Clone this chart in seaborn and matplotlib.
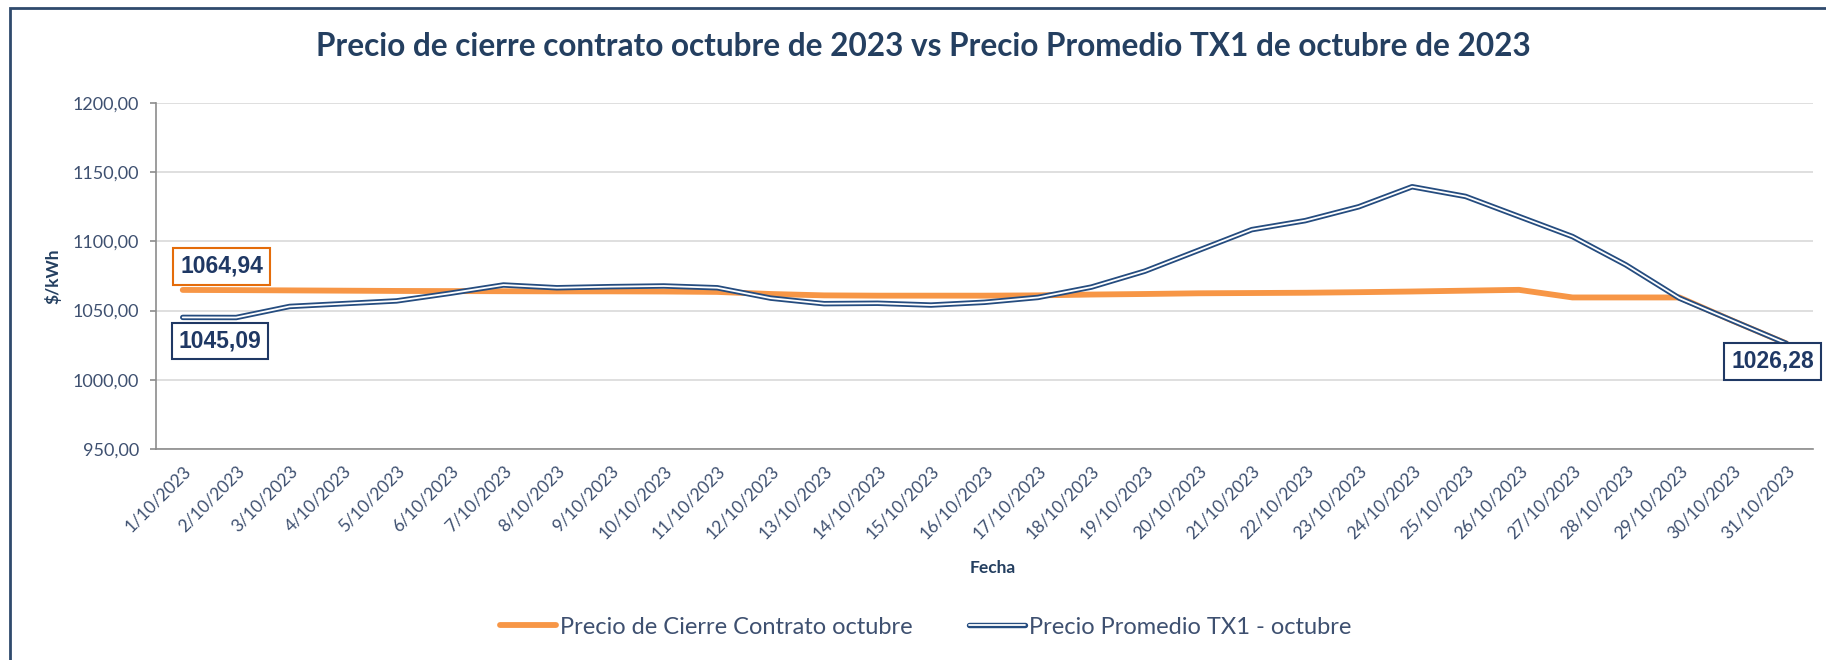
import numpy as np
import pandas as pd
import matplotlib
matplotlib.use("Agg")
import matplotlib.pyplot as plt
import matplotlib.patheffects as pe
from matplotlib.patches import Rectangle
from matplotlib.ticker import FuncFormatter
import seaborn as sns

# --- data ---
fechas = [f"{d}/10/2023" for d in range(1, 32)]

cierre_contrato = [
    1064.94, 1064.8, 1064.6, 1064.4, 1064.2, 1064.1, 1064.0, 1063.9, 1063.9, 1063.8,
    1063.5, 1062.0, 1061.0, 1060.8, 1060.8, 1060.8, 1061.0, 1061.6, 1062.0, 1062.5,
    1062.7, 1062.9, 1063.3, 1063.8, 1064.4, 1065.0, 1059.5, 1059.5, 1059.5, 1042.6,
    1026.28,
]
promedio_tx1 = [
    1045.09, 1045.0, 1053.0, 1055.0, 1057.0, 1062.5, 1068.5, 1066.5, 1067.3, 1067.8,
    1066.5, 1059.0, 1055.0, 1055.3, 1054.0, 1056.0, 1059.5, 1067.0, 1078.5, 1093.5,
    1108.5, 1115.0, 1125.0, 1139.5, 1132.5, 1118.0, 1103.5, 1083.0, 1059.0, 1042.6,
    1026.28,
]
y_ticks = [950, 1000, 1050, 1100, 1150, 1200]

serie_cierre = "Precio de Cierre Contrato octubre"
serie_tx1 = "Precio Promedio TX1 - octubre"

NAVY = "#254C7F"
ORANGE = "#F79646"
TEXT = "#243F60"
TICK = "#3E5070"

df = pd.DataFrame({
    "dia": np.arange(len(fechas)),
    "cierre": cierre_contrato,
    "tx1": promedio_tx1,
})

sns.set_theme(style="white")
plt.rcParams["font.family"] = ["Lato", "DejaVu Sans"]

W, H = 1826, 660
fig = plt.figure(figsize=(W / 100, H / 100), dpi=100)
ax = fig.add_axes([156 / W, 1 - 449 / H, (1813 - 156) / W, (449 - 103) / H])

sns.lineplot(data=df, x="dia", y="cierre", ax=ax, color=ORANGE, lw=4.2,
             solid_capstyle="round", label=serie_cierre, zorder=3)
sns.lineplot(data=df, x="dia", y="tx1", ax=ax, color="white", lw=1.3,
             solid_capstyle="round", label=serie_tx1, zorder=4,
             path_effects=[pe.Stroke(linewidth=3.9, foreground=NAVY,
                                     capstyle="round"), pe.Normal()])

ax.set_xlim(-0.5, len(fechas) - 0.5)
ax.set_ylim(950, 1200)
ax.set_yticks(y_ticks)
ax.yaxis.set_major_formatter(FuncFormatter(lambda v, _: f"{v:.2f}".replace(".", ",")))
ax.set_xticks(df["dia"])
ax.set_xticklabels(fechas, rotation=45, ha="right", rotation_mode="anchor")

ax.grid(axis="y", color="#D9D9D9", lw=1.2)
ax.set_axisbelow(True)
for s in ["top", "right"]:
    ax.spines[s].set_visible(False)
for s in ["left", "bottom"]:
    ax.spines[s].set_color("#8C8C8C")
    ax.spines[s].set_linewidth(1.2)
ax.tick_params(axis="y", length=4, width=1.2, color="#8C8C8C", labelsize=13,
               labelcolor=TICK, pad=8, left=True)
ax.tick_params(axis="x", length=0, labelsize=12.5, labelcolor=TICK, pad=10)

ax.set_xlabel("Fecha", fontsize=12.5, fontweight="bold", color=TEXT)
ax.xaxis.set_label_coords(0.505, -0.32)
ax.set_ylabel("$/kWh", fontsize=12.5, fontweight="bold", color=TEXT)
ax.yaxis.set_label_coords(-0.057, 0.5)

# data labels
lab_font = dict(fontsize=16.5, fontweight="bold", color="#1F3864",
                family=["Liberation Sans", "DejaVu Sans"], ha="center", va="center")
ax.annotate(f"{cierre_contrato[0]:.2f}".replace(".", ","), (0, cierre_contrato[0]),
            xytext=(28, 17), textcoords="offset points",
            bbox=dict(boxstyle="square,pad=0.3", fc="white", ec="#E46C0A", lw=1.5),
            **lab_font)
ax.annotate(f"{promedio_tx1[0]:.2f}".replace(".", ","), (0, promedio_tx1[0]),
            xytext=(27, -17), textcoords="offset points",
            bbox=dict(boxstyle="square,pad=0.3", fc="white", ec="#1F3864", lw=1.5),
            **lab_font)
ax.annotate(f"{promedio_tx1[-1]:.2f}".replace(".", ","), (len(fechas) - 1, promedio_tx1[-1]),
            xytext=(-10, -13), textcoords="offset points",
            bbox=dict(boxstyle="square,pad=0.3", fc="white", ec="#1F3864", lw=1.5),
            annotation_clip=False, zorder=6, **lab_font)

ax.legend(loc="center", bbox_to_anchor=(926 / W, 1 - 627 / H),
          bbox_transform=fig.transFigure, ncol=2, frameon=False, fontsize=17,
          handlelength=2.35, handletextpad=0.18, columnspacing=2.4,
          labelcolor=TICK)

fig.text(923 / W, 1 - 47 / H,
         "Precio de cierre contrato octubre de 2023 vs Precio Promedio TX1 de octubre de 2023",
         ha="center", va="center", fontsize=22.7, fontweight="bold", color=TEXT)

# outer frame (clipped on the right and bottom like the reference)
fig.patches.append(Rectangle((10 / W, -0.2), 1.2, 1.2 - 8 / H, transform=fig.transFigure,
                             fill=False, ec="#2F4A6D", lw=2, zorder=10))

fig.savefig("out.png", dpi=100)
